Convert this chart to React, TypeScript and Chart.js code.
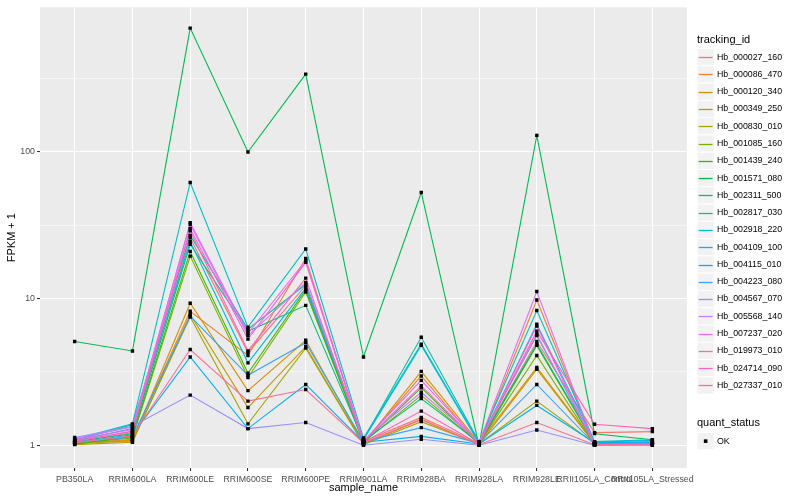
import React, { useEffect, useRef } from "react";
import { Chart, registerables } from "chart.js";

Chart.register(...registerables);

const categories = [
  "PB350LA",
  "RRIM600LA",
  "RRIM600LE",
  "RRIM600SE",
  "RRIM600PE",
  "RRIM901LA",
  "RRIM928BA",
  "RRIM928LA",
  "RRIM928LE",
  "RRII105LA_Control",
  "RRII105LA_Stressed",
];

const trackingIds = [
  "Hb_000027_160",
  "Hb_000086_470",
  "Hb_000120_340",
  "Hb_000349_250",
  "Hb_000830_010",
  "Hb_001085_160",
  "Hb_001439_240",
  "Hb_001571_080",
  "Hb_002311_500",
  "Hb_002817_030",
  "Hb_002918_220",
  "Hb_004109_100",
  "Hb_004115_010",
  "Hb_004223_080",
  "Hb_004567_070",
  "Hb_005568_140",
  "Hb_007237_020",
  "Hb_019973_010",
  "Hb_024714_090",
  "Hb_027337_010",
];

const seriesColors = [
  "#F8766D", "#EA8331", "#D89000", "#C09B00", "#A3A500",
  "#7CAE00", "#39B600", "#00BB4E", "#00BF7D", "#00C1A3",
  "#00BFC4", "#00BAE0", "#00B0F6", "#35A2FF", "#9590FF",
  "#C77CFF", "#E76BF3", "#FA62DB", "#FF62BC", "#FF6C91",
];

// FPKM + 1 per sample, one array per tracking_id (order = categories)
const hb000027_160 = [1.05, 1.22, 26, 4.3, 12.3, 1.06, 1.55, 1.03, 5.1, 1.22, 1.24];
const hb000086_470 = [1.02, 1.1, 8.2, 4.1, 18.8, 1.04, 2.97, 1.02, 9.8, 1.02, 1.03];
const hb000120_340 = [1.03, 1.08, 9.3, 2.36, 5.2, 1.03, 3.19, 1.04, 3.4, 1.03, 1.04];
const hb000349_250 = [1.01, 1.05, 7.8, 1.81, 4.7, 1.02, 1.5, 1.01, 3.3, 1.02, 1.05];
const hb000830_010 = [1.04, 1.06, 7.5, 1.4, 4.6, 1.01, 1.45, 1.02, 2.0, 1.03, 1.06];
const hb001085_160 = [1.03, 1.12, 19.5, 2.9, 11.1, 1.05, 2.19, 1.03, 4.1, 1.01, 1.04];
const hb001439_240 = [1.02, 1.15, 21, 3.1, 11.5, 1.04, 2.47, 1.02, 4.8, 1.02, 1.03];
const hb001571_080 = [5.1, 4.4, 700, 100, 340, 4.0, 53, 1.0, 130, 1.2, 1.09];
const hb002311_500 = [1.06, 1.2, 23.5, 6.0, 9.0, 1.07, 2.08, 1.04, 4.9, 1.04, 1.02];
const hb002817_030 = [1.08, 1.38, 27, 6.2, 12.5, 1.1, 5.45, 1.06, 5.6, 1.03, 1.04];
const hb002918_220 = [1.1, 1.4, 62, 6.4, 21.8, 1.12, 4.9, 1.05, 8.3, 1.06, 1.09];
const hb004109_100 = [1.07, 1.3, 24.5, 3.65, 11.8, 1.09, 4.8, 1.03, 6.7, 1.05, 1.08];
const hb004115_010 = [1.04, 1.18, 4.0, 1.3, 2.6, 1.05, 1.15, 1.02, 1.87, 1.04, 1.05];
const hb004223_080 = [1.05, 1.14, 7.6, 3.0, 5.0, 1.06, 1.32, 1.03, 2.6, 1.02, 1.04];
const hb004567_070 = [1.13, 1.35, 2.2, 1.3, 1.43, 1.0, 1.1, 1.0, 1.27, 1.0, 1.01];
const hb005568_140 = [1.11, 1.33, 32, 5.6, 12.9, 1.08, 2.3, 1.05, 5.7, 1.01, 1.02];
const hb007237_020 = [1.09, 1.28, 33, 5.8, 18.2, 1.07, 2.77, 1.04, 11.2, 1.0, 1.01];
const hb019973_010 = [1.06, 1.25, 30, 5.3, 17.7, 1.06, 2.55, 1.03, 6.5, 1.0, 1.0];
const hb024714_090 = [1.07, 1.24, 29, 4.4, 13.8, 1.05, 1.71, 1.02, 6.0, 1.39, 1.3];
const hb027337_010 = [1.04, 1.16, 4.5, 2.0, 2.4, 1.04, 1.5, 1.01, 1.43, 1.01, 1.02];

const seriesValues = [
  hb000027_160, hb000086_470, hb000120_340, hb000349_250, hb000830_010,
  hb001085_160, hb001439_240, hb001571_080, hb002311_500, hb002817_030,
  hb002918_220, hb004109_100, hb004115_010, hb004223_080, hb004567_070,
  hb005568_140, hb007237_020, hb019973_010, hb024714_090, hb027337_010,
];

const yMajorTicks = [1, 10, 100];
const yMinorTicks = [3.1623, 31.623, 316.23];
const yTickLabels = ["1", "10", "100"];

const quantStatus = ["OK"];

const FONT = '"Liberation Sans", Arial, Helvetica, sans-serif';

const isMajor = (v: number) => yMajorTicks.some((m) => Math.abs(m - v) < 1e-6);

const panelBg = {
  id: "panelBg",
  beforeDraw(chart: any) {
    const { ctx, chartArea: a } = chart;
    ctx.save();
    ctx.fillStyle = "#EBEBEB";
    ctx.fillRect(a.left, a.top, a.right - a.left, a.bottom - a.top);
    ctx.restore();
  },
};

const ggLegend = {
  id: "ggLegend",
  afterDraw(chart: any) {
    const ctx = chart.ctx;
    const x0 = 697;
    const key = 17.28;
    ctx.save();
    ctx.fillStyle = "#000000";
    ctx.textBaseline = "middle";
    ctx.textAlign = "left";
    ctx.font = `11px ${FONT}`;
    ctx.fillText("tracking_id", x0, 40);
    ctx.font = `8.8px ${FONT}`;
    trackingIds.forEach((id, i) => {
      const top = 48.5 + key * i;
      ctx.fillStyle = "#F2F2F2";
      ctx.fillRect(x0, top, key, key);
      ctx.strokeStyle = "#FFFFFF";
      ctx.lineWidth = 1;
      ctx.strokeRect(x0, top, key, key);
      const ly = Math.round(top + key / 2) + 0.5;
      ctx.strokeStyle = seriesColors[i];
      ctx.lineWidth = 1.3;
      ctx.beginPath();
      ctx.moveTo(x0 + 1.7, ly);
      ctx.lineTo(x0 + key - 1.7, ly);
      ctx.stroke();
      ctx.fillStyle = "#000000";
      ctx.fillText(id, x0 + 20, top + key / 2);
    });
    ctx.font = `11px ${FONT}`;
    ctx.fillText("quant_status", x0, 423);
    ctx.font = `8.8px ${FONT}`;
    quantStatus.forEach((s, i) => {
      const top = 432.5 + key * i;
      ctx.fillStyle = "#F2F2F2";
      ctx.fillRect(x0, top, key, key);
      ctx.strokeStyle = "#FFFFFF";
      ctx.lineWidth = 1;
      ctx.strokeRect(x0, top, key, key);
      ctx.fillStyle = "#000000";
      ctx.fillRect(x0 + key / 2 - 1.8, top + key / 2 - 1.8, 3.6, 3.6);
      ctx.fillText(s, x0 + 20, top + key / 2);
    });
    ctx.restore();
  },
};

export default function App() {
  const canvasRef = useRef<HTMLCanvasElement | null>(null);

  useEffect(() => {
    document.body.style.margin = "0";
    const canvas = canvasRef.current;
    if (!canvas) return;

    const lineSets = seriesValues.map((vals, i) => ({
      label: trackingIds[i],
      data: vals.map((v, j) => ({ x: j, y: v })),
      borderColor: seriesColors[i],
      backgroundColor: seriesColors[i],
      borderWidth: 1.1,
      pointRadius: 0,
      pointHoverRadius: 0,
      tension: 0,
      fill: false,
      order: seriesValues.length - i,
    }));

    const pointSet = {
      label: "quant_status",
      data: seriesValues.flatMap((vals) => vals.map((v, j) => ({ x: j, y: v }))),
      showLine: false,
      borderColor: "#000000",
      backgroundColor: "#000000",
      pointStyle: "rect",
      pointRadius: 2.4,
      pointBorderWidth: 0,
      pointBackgroundColor: "#000000",
      order: 0,
    };

    const chart = new Chart(canvas, {
      type: "line",
      data: { datasets: [...lineSets, pointSet] as any },
      options: {
        responsive: false,
        animation: false,
        devicePixelRatio: window.devicePixelRatio || 1,
        layout: { padding: { top: 6, right: 113, left: 0, bottom: 0 } },
        plugins: {
          legend: { display: false },
          tooltip: { enabled: false },
        },
        events: [],
        scales: {
          x: {
            type: "linear",
            min: -0.6,
            max: 10.6,
            afterBuildTicks: (scale: any) => {
              scale.ticks = categories.map((_, i) => ({ value: i }));
            },
            afterFit: (scale: any) => {
              scale.height = 32;
            },
            ticks: {
              autoSkip: false,
              maxRotation: 0,
              minRotation: 0,
              padding: 3,
              color: "#4D4D4D",
              font: { family: FONT, size: 8.8 },
              callback: (v: any) => categories[v as number] ?? "",
            },
            grid: {
              color: "#FFFFFF",
              lineWidth: 1.07,
              tickColor: "#333333",
              tickLength: 3,
              drawTicks: true,
            },
            border: { display: false },
            title: {
              display: true,
              text: "sample_name",
              color: "#000000",
              font: { family: FONT, size: 11 },
              padding: 5,
            },
          },
          y: {
            type: "logarithmic",
            min: 0.721,
            max: 971,
            afterBuildTicks: (scale: any) => {
              scale.ticks = [...yMajorTicks, ...yMinorTicks]
                .sort((a, b) => a - b)
                .map((v) => ({ value: v }));
            },
            afterFit: (scale: any) => {
              scale.width = 40;
            },
            ticks: {
              autoSkip: false,
              padding: 2,
              color: "#4D4D4D",
              font: { family: FONT, size: 8.8 },
              callback: (v: any) => {
                const idx = yMajorTicks.findIndex((m) => Math.abs(m - v) < 1e-6);
                return idx >= 0 ? yTickLabels[idx] : "";
              },
            },
            grid: {
              color: "#FFFFFF",
              lineWidth: (c: any) => (isMajor(c.tick?.value) ? 1.07 : 0.53),
              tickColor: (c: any) => (isMajor(c.tick?.value) ? "#333333" : "rgba(0,0,0,0)"),
              tickLength: 3,
              drawTicks: true,
            },
            border: { display: false },
            title: {
              display: true,
              text: "FPKM + 1",
              color: "#000000",
              font: { family: FONT, size: 11 },
              padding: 5,
            },
          },
        },
      } as any,
      plugins: [panelBg, ggLegend],
    });

    return () => chart.destroy();
  }, []);

  return (
    <div style={{ position: "absolute", left: 0, top: 0, width: 800, height: 500 }}>
      <canvas ref={canvasRef} width={800} height={500} style={{ display: "block" }} />
    </div>
  );
}
